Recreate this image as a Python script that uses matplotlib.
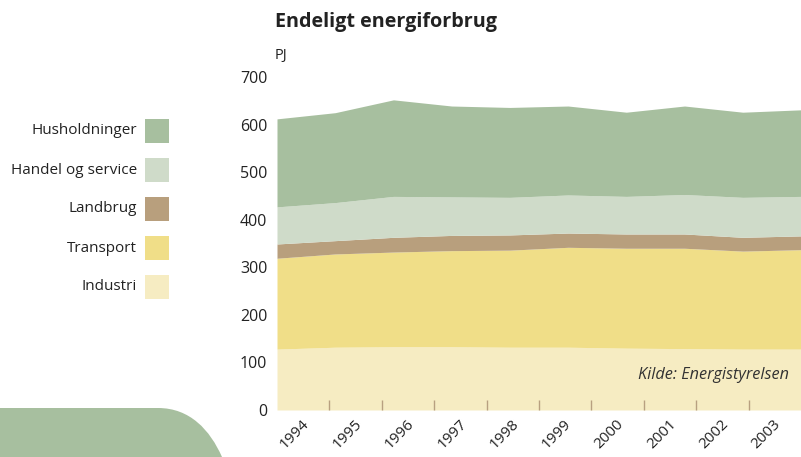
import matplotlib
matplotlib.use('Agg')
import matplotlib.pyplot as plt
import matplotlib.patches as mpatches
from matplotlib.path import Path
from matplotlib.transforms import ScaledTranslation
import numpy as np

plt.rcParams['font.family'] = ['Open Sans', 'DejaVu Sans']

years = ['1994', '1995', '1996', '1997', '1998', '1999', '2000', '2001', '2002', '2003']
industri = [128, 132, 133, 133, 132, 132, 130, 129, 128, 128]
transport = [191, 196, 199, 202, 204, 210, 210, 211, 206, 209]
landbrug = [30, 28, 31, 32, 32, 30, 30, 30, 29, 29]
handel = [78, 80, 86, 81, 79, 80, 79, 83, 84, 83]
husholdninger = [185, 189, 203, 191, 189, 187, 177, 186, 179, 182]

series = [industri, transport, landbrug, handel, husholdninger]
names = ['Industri', 'Transport', 'Landbrug', 'Handel og service', 'Husholdninger']
colors = ['#f6ecc2', '#f0de88', '#b89f7d', '#cfdbc9', '#a7bf9f']

W, H = 801, 457
fig = plt.figure(figsize=(W / 100, H / 100), dpi=100)
ax = fig.add_axes([277 / W, (H - 410) / H, 1 - 277 / W, (410 - 77) / H])

n = len(years)
x = np.arange(n)
base = np.zeros(n)
for vals, c in zip(series, colors):
    top = base + np.array(vals)
    ax.fill_between(x, base, top, color=c, lw=0, zorder=1)
    base = top

ax.set_xlim(0, n - 1)
ax.set_ylim(0, 700)
for s in ax.spines.values():
    s.set_visible(False)

ax.set_yticks(range(0, 701, 100))
ax.tick_params(axis='y', length=0, pad=7, labelsize=11.5, labelcolor='#222222')

# category slots span the full width; boundaries get small inward marks
slot = (n - 1) / n
ax.set_xticks([(i + 0.5) * slot for i in range(n)])
ax.set_xticklabels(years, rotation=45, fontsize=11, color='#222222')
ax.tick_params(axis='x', which='major', length=0, pad=5)
ax.set_xticks([i * slot for i in range(1, n)], minor=True)
ax.tick_params(axis='x', which='minor', direction='in', length=7.5, width=1,
               color='#b8a080')
for lab in ax.get_xticklabels():
    lab.set_transform(lab.get_transform() + ScaledTranslation(-6 / 72, 0, fig.dpi_scale_trans))

ax.text(0.978, 0.105, 'Kilde: Energistyrelsen', transform=ax.transAxes,
        ha='right', va='center', style='italic', fontsize=11.7, color='#333333')

fig.text(275 / W, 1 - 22 / H, 'Endeligt energiforbrug', fontsize=14.2,
         fontweight='bold', ha='left', va='center', color='#222222')
fig.text(275 / W, 1 - 55 / H, 'PJ', fontsize=10.5, ha='left', va='center',
         color='#222222')

# legend on the left
ys = [131, 170, 209, 248, 287]
for name, c, yy in zip(names[::-1], colors[::-1], ys):
    fig.patches.append(mpatches.Rectangle((145 / W, (H - yy - 12) / H), 24 / W, 24 / H,
                                          transform=fig.transFigure, color=c, lw=0))
    fig.text(137 / W, (H - yy) / H, name, ha='right', va='center', fontsize=11,
             color='#222222')

# decorative green shape bottom-left
pts = [(0, H - 408), (158, H - 408), (190, H - 408), (210, H - 430),
       (222, H - 457), (222, 0), (0, 0), (0, H - 408)]
codes = [Path.MOVETO, Path.LINETO, Path.CURVE4, Path.CURVE4, Path.CURVE4,
         Path.LINETO, Path.LINETO, Path.CLOSEPOLY]
pts = [(px / W, py / H) for px, py in pts]
fig.patches.append(mpatches.PathPatch(Path(pts, codes), transform=fig.transFigure,
                                      facecolor='#a7bf9f', lw=0))

fig.savefig('out.png', dpi=100)
